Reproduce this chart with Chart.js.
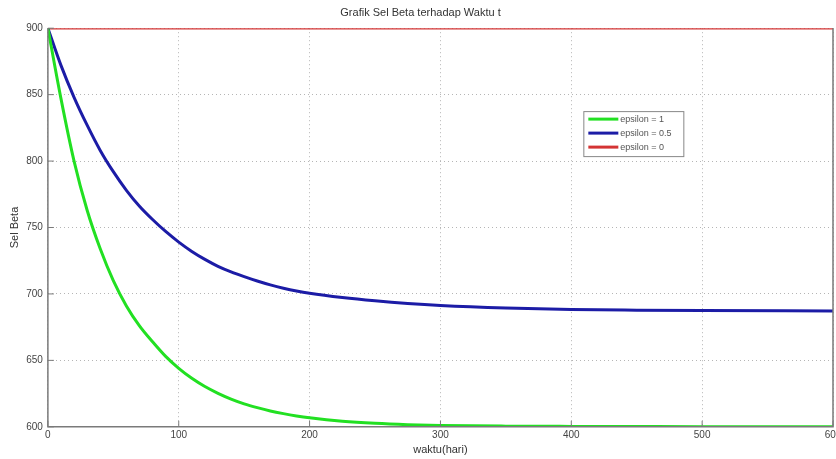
<!DOCTYPE html>
<html>
<head>
<meta charset="utf-8">
<script src="https://cdn.jsdelivr.net/npm/chart.js@4/dist/chart.umd.min.js"></script>
<style>
  html, body { margin: 0; padding: 0; background: #fff; overflow: hidden; }
  #wrap { width: 836px; height: 459px; overflow: hidden; position: relative; }
  #box { width: 852px; height: 459px; position: absolute; left: 0; top: 0; }
</style>
</head>
<body>
<div id="wrap"><div id="box"><canvas id="chart"></canvas></div></div>
<script>
// time in days
const waktu = [0, 10, 20, 30, 40, 50, 60, 70, 80, 90, 100, 110, 120, 130, 140, 150, 160, 170, 180, 190, 200, 225, 250, 275, 300, 350, 400, 450, 500, 600];
// Sel Beta for each epsilon
const eps1 = [900, 847, 800, 763, 734, 710, 691, 676, 664, 653, 644, 636.5, 630.3, 625.2, 620.9, 617.3, 614.4, 611.9, 609.9, 608.2, 606.8, 604.2, 602.6, 601.6, 601, 600.5, 600.3, 600.2, 600.1, 600.1];
const eps05 = [900, 872, 848, 827, 808, 792, 778, 766, 756, 747, 739, 732, 726, 720.8, 716.6, 713, 709.7, 706.8, 704.3, 702.2, 700.5, 697.3, 694.8, 692.8, 691.3, 689.4, 688.3, 687.8, 687.5, 687.2];
const eps0 = [900, 900, 900, 900, 900, 900, 900, 900, 900, 900, 900, 900, 900, 900, 900, 900, 900, 900, 900, 900, 900, 900, 900, 900, 900, 900, 900, 900, 900, 900];
const labels = ['epsilon = 1', 'epsilon = 0.5', 'epsilon = 0'];
const colors = ['#22e022', '#1c1ca6', '#d43434'];
const xTicks = [0, 100, 200, 300, 400, 500, 600];
const yTicks = [600, 650, 700, 750, 800, 850, 900];

const pts = function(ys) {
  return waktu.map((t, i) => ({x: t, y: ys[i]}));
};

// matlab style box, inward ticks and legend box
const matlabBits = {
  id: 'matlabBits',
  afterDraw(chart) {
    const {ctx, chartArea: a, scales} = chart;
    ctx.save();
    ctx.strokeStyle = '#7a7a7a';
    ctx.lineWidth = 1.5;
    ctx.beginPath();
    ctx.moveTo(a.left, a.top);
    ctx.lineTo(a.left, a.bottom);
    ctx.lineTo(a.right, a.bottom);
    ctx.lineTo(a.right, a.top);
    ctx.stroke();
    ctx.lineWidth = 1;
    ctx.beginPath();
    yTicks.forEach(v => {
      const y = scales.y.getPixelForValue(v);
      ctx.moveTo(a.left, y);
      ctx.lineTo(a.left + 6, y);
    });
    xTicks.forEach(v => {
      const x = scales.x.getPixelForValue(v);
      ctx.moveTo(x, a.bottom);
      ctx.lineTo(x, a.bottom - 6);
    });
    ctx.stroke();

    // legend
    const lx = a.left + (a.right - a.left) * 0.682;
    const ly = a.top + (a.bottom - a.top) * 0.208;
    const w = 100, h = 45;
    ctx.fillStyle = '#fff';
    ctx.fillRect(lx, ly, w, h);
    ctx.strokeStyle = '#888';
    ctx.lineWidth = 1;
    ctx.strokeRect(lx + 0.5, ly + 0.5, w, h);
    ctx.font = '9px "Liberation Sans", Arial, sans-serif';
    ctx.textBaseline = 'middle';
    chart.data.datasets.forEach((ds, i) => {
      const yy = ly + 8 + i * 14;
      ctx.strokeStyle = ds.borderColor;
      ctx.lineWidth = 3;
      ctx.beginPath();
      ctx.moveTo(lx + 5, yy);
      ctx.lineTo(lx + 35, yy);
      ctx.stroke();
      ctx.fillStyle = '#555';
      ctx.fillText(ds.label, lx + 37, yy);
    });
    ctx.restore();
  }
};

const chart = new Chart(document.getElementById('chart'), {
  type: 'line',
  data: {
    datasets: [
      { label: labels[0], data: pts(eps1), borderColor: colors[0], borderWidth: 3, pointRadius: 0, cubicInterpolationMode: 'monotone', fill: false },
      { label: labels[1], data: pts(eps05), borderColor: colors[1], borderWidth: 3, pointRadius: 0, cubicInterpolationMode: 'monotone', fill: false },
      { label: labels[2], data: pts(eps0), borderColor: colors[2], borderWidth: 2.5, pointRadius: 0, fill: false }
    ]
  },
  options: {
    responsive: true,
    maintainAspectRatio: false,
    animation: false,
    layout: { padding: { left: 8, right: 19, top: 2, bottom: 2 } },
    plugins: {
      legend: { display: false },
      tooltip: { enabled: false },
      title: {
        display: true,
        text: 'Grafik Sel Beta terhadap Waktu t',
        color: '#333',
        font: { family: '"Liberation Sans", Arial, sans-serif', size: 11, weight: 'normal' },
        padding: { top: 4, bottom: 9 }
      }
    },
    scales: {
      x: {
        type: 'linear',
        min: 0, max: 600,
        afterBuildTicks: (s) => { s.ticks = xTicks.map(v => ({value: v})); },
        ticks: { color: '#444', font: { family: '"Liberation Sans", Arial, sans-serif', size: 10 }, padding: 2, maxRotation: 0 },
        grid: { color: '#b5b5b5', lineWidth: 1, drawTicks: false },
        border: { display: false, dash: [1, 3] },
        title: { display: true, text: 'waktu(hari)', color: '#333', font: { family: '"Liberation Sans", Arial, sans-serif', size: 11 }, padding: { top: 1, bottom: 0 } }
      },
      y: {
        min: 600, max: 900,
        afterBuildTicks: (s) => { s.ticks = yTicks.map(v => ({value: v})); },
        ticks: { color: '#444', font: { family: '"Liberation Sans", Arial, sans-serif', size: 10 }, padding: 5 },
        grid: { color: '#b5b5b5', lineWidth: 1, drawTicks: false },
        border: { display: false, dash: [1, 3] },
        title: { display: true, text: 'Sel Beta', color: '#333', font: { family: '"Liberation Sans", Arial, sans-serif', size: 11 }, padding: { top: 0, bottom: 0 } }
      }
    }
  },
  plugins: [matlabBits]
});
</script>
</body>
</html>
